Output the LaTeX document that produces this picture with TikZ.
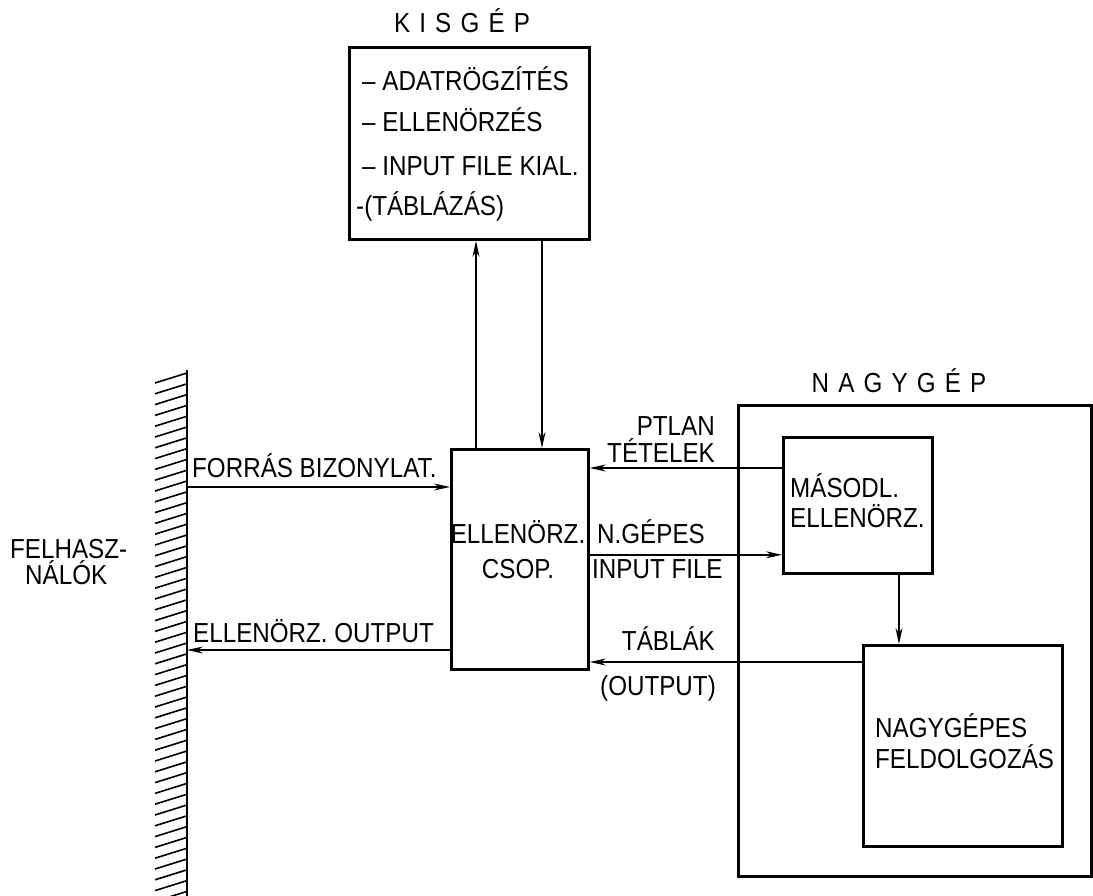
\documentclass[tikz,border=0pt]{standalone}
\usepackage{fontspec}
\setmainfont[FakeStretch=0.88]{Liberation Sans}
\usetikzlibrary{arrows.meta}
\begin{document}
\begin{tikzpicture}[x=1pt,y=-1pt,
  box/.style={draw, line width=2.8pt, inner sep=0pt, anchor=north west},
  conn/.style={line width=1.5pt},
  arr/.style={conn, -{Stealth[length=16pt,width=7pt]}},
  lbl/.style={inner sep=0pt, font=\fontsize{27.5}{32}\selectfont},
]
\useasboundingbox (0,0) rectangle (1093,896);
% boxes
\node[box, minimum width=240pt, minimum height=192pt] (kis) at (348,46) {};
\node[box, minimum width=137pt, minimum height=220pt] (ell) at (450,448) {};
\node[box, minimum width=353pt, minimum height=471pt] (nagyouter) at (737,404) {};
\node[box, minimum width=149pt, minimum height=136pt] (mas) at (782,436) {};
\node[box, minimum width=199pt, minimum height=201pt] (feld) at (862,644) {};
% wall
\draw[line width=2.8pt] (187,370) -- (187,896);
\foreach \y in {373,383.8,...,896} \draw[line width=1.6pt] (155,\y+10) -- (187,\y);
\coordinate (wallF) at (187,487);
\coordinate (wallO) at (187,650);
% titles
\node[lbl, anchor=base] (kistitle) at (462,33) {K\,\,I\,\,S\,\,G\,\,É\,\,P};
\node[lbl, anchor=base] (nagytitle) at (899,392) {N\,\,A\,\,G\,\,Y\,\,G\,\,É\,\,P};
% top box text
\node[lbl, anchor=base west] (k1) at (362,91) {– ADATRÖGZÍTÉS};
\node[lbl, anchor=base west] (k2) at (362,132) {– ELLENÖRZÉS};
\node[lbl, anchor=base west] (k3) at (362,176) {– INPUT FILE KIAL.};
\node[lbl, anchor=base west] (k4) at (356,216) {-(TÁBLÁZÁS)};
% middle box text
\node[lbl, anchor=base] (e1) at (518,543) {ELLENÖRZ.};
\node[lbl, anchor=base] (e2) at (518,578) {CSOP.};
% left labels
\node[lbl, anchor=base west] (f1) at (10,558) {FELHASZ-};
\node[lbl, anchor=base west] (f2) at (25,584) {NÁLÓK};
\node[lbl, anchor=base west] (lf) at (192,477) {FORRÁS BIZONYLAT.};
\node[lbl, anchor=base west] (lo) at (193,642) {ELLENÖRZ. OUTPUT};
% right labels
\node[lbl, anchor=base east] (p1) at (715,435) {PTLAN};
\node[lbl, anchor=base east] (p2) at (715,462) {TÉTELEK};
\node[lbl, anchor=base west] (n1) at (597,543) {N.GÉPES};
\node[lbl, anchor=base west] (n2) at (592,578) {INPUT FILE};
\node[lbl, anchor=base east] (t1) at (715,650) {TÁBLÁK};
\node[lbl, anchor=base east] (t2) at (716,695) {(OUTPUT)};
% inner box texts
\node[lbl, anchor=base west] (m1) at (790,497) {MÁSODL.};
\node[lbl, anchor=base west] (m2) at (790,527) {ELLENÖRZ.};
\node[lbl, anchor=base west] (g1) at (875,737) {NAGYGÉPES};
\node[lbl, anchor=base west] (g2) at (875,768) {FELDOLGOZÁS};
% connectors
\draw[arr] ([xshift=26pt]ell.north west) -- ([xshift=26pt]ell.north west |- kis.south);
\draw[arr] ([xshift=92pt]ell.north west |- kis.south) -- ([xshift=92pt]ell.north west);
\draw[arr] (wallF) -- (wallF -| ell.west);
\draw[arr] (wallO -| ell.west) -- (wallO);
\draw[arr] ([yshift=-32pt]mas.north west) -- ([yshift=-32pt]mas.north west -| ell.east);
\draw[arr] ([yshift=20pt]mas.south west -| ell.east) -- ([yshift=20pt]mas.south west);
\draw[arr] ([xshift=117pt]mas.south west) -- ([xshift=117pt]mas.south west |- feld.north);
\draw[arr] ([yshift=-18pt]feld.north west) -- ([yshift=-18pt]feld.north west -| ell.east);
\end{tikzpicture}
\end{document}
